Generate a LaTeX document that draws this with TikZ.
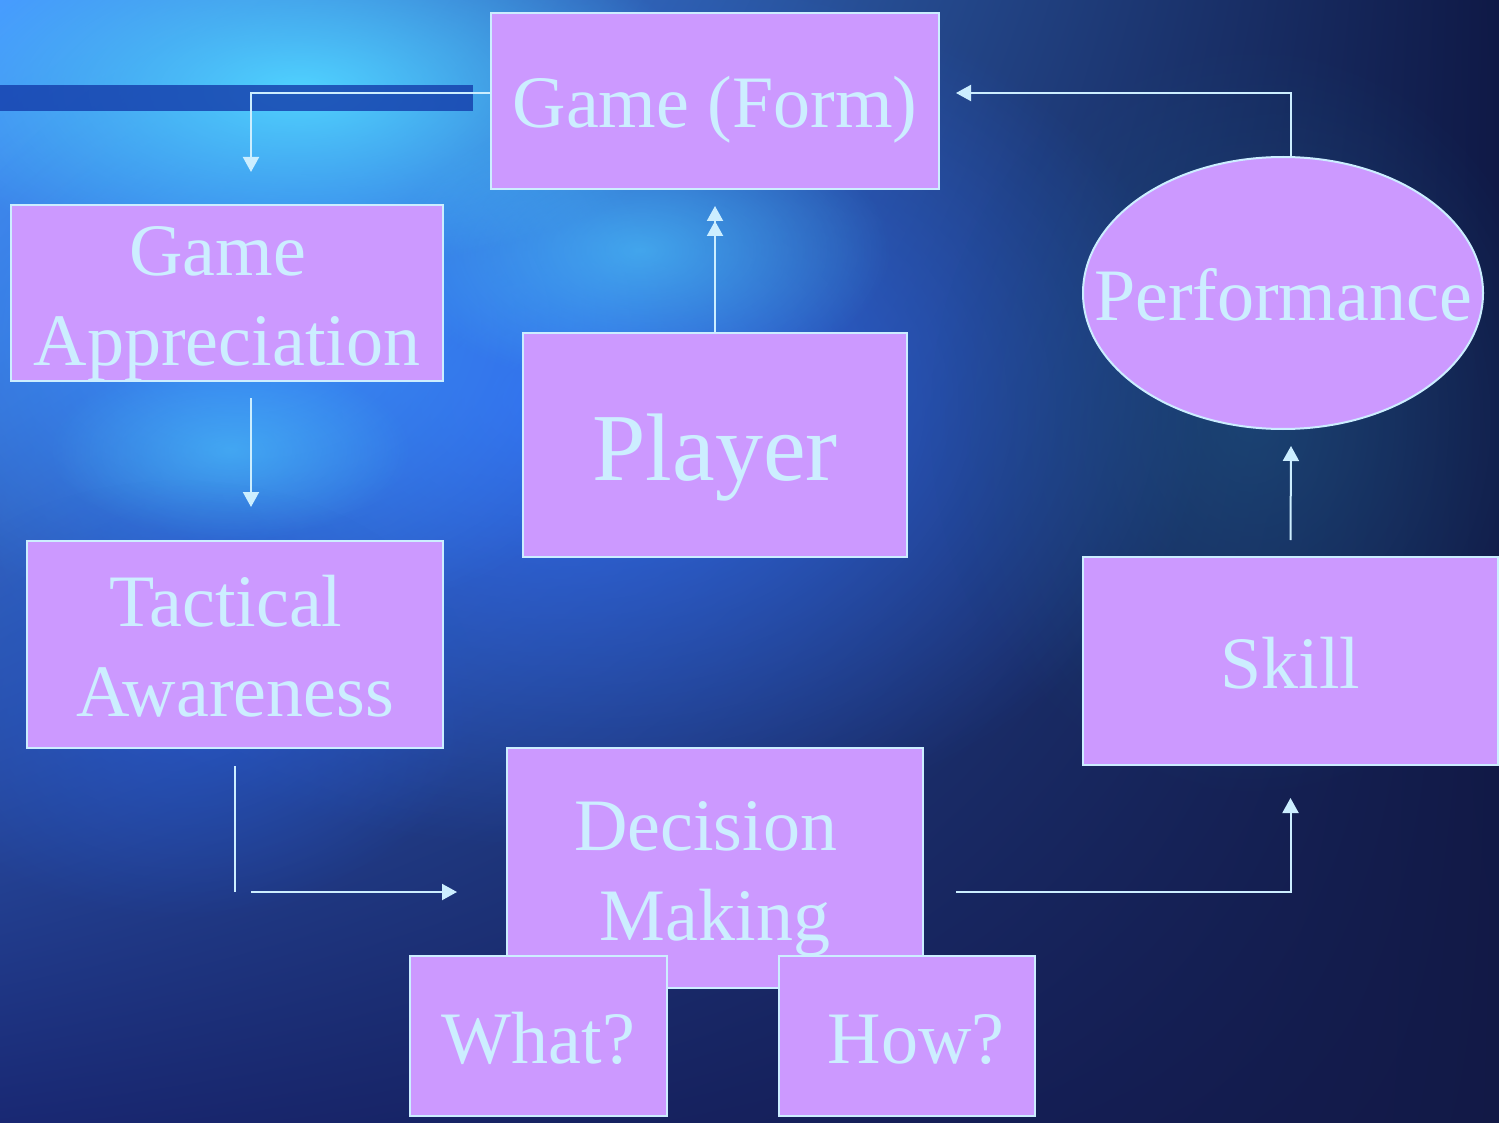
\documentclass[tikz,border=0pt]{standalone}
\usepackage{fontspec}
\setmainfont{Liberation Serif}
\usepackage{tikz}
\usetikzlibrary{positioning, shapes.geometric, arrows.meta, fadings, shadings}
\definecolor{tgBox}{RGB}{204, 153, 255}
\definecolor{tgIce}{RGB}{204, 238, 255}
\definecolor{tgBar}{RGB}{20, 60, 170}
\definecolor{tgSky}{RGB}{80, 210, 255}
\definecolor{tgLight}{RGB}{60, 150, 255}
\definecolor{tgBlue}{RGB}{50, 110, 245}
\definecolor{tgMid}{RGB}{40, 90, 210}
\definecolor{tgTeal}{RGB}{30, 85, 130}
\definecolor{tgUL}{RGB}{70, 150, 255}
\definecolor{tgUR}{RGB}{15, 25, 70}
\definecolor{tgLL}{RGB}{25, 40, 115}
\definecolor{tgLR}{RGB}{18, 25, 70}
\tikzfading[name=glow, inner color=transparent!0, outer color=transparent!100]
\tikzset{
    base/.style={
        font=\fontsize{74}{90}\selectfont,
        text=tgIce,
        align=center
    },
    box/.style={
        base,
        rectangle,
        draw=tgIce,
        line width=2pt,
        fill=tgBox,
        inner sep=0pt,
        text height=54pt,
        text depth=0pt
    },
    twoline/.style={
        text height=144pt
    },
    oval/.style={
        box,
        ellipse
    },
    flow/.style={
        -{Triangle[length=15pt, width=16pt]},
        line width=2pt,
        color=tgIce
    },
    doubleflow/.style={
        -{Triangle[length=15pt, width=16pt, sep=0pt]Triangle[length=15pt, width=16pt, sep=0pt]},
        line width=2pt,
        color=tgIce
    },
    plain/.style={
        line width=2pt,
        color=tgIce
    },
    cloud/.style={
        path fading=glow
    }
}

\begin{document}
\begin{tikzpicture}[x=1pt, y=-1pt]
  \useasboundingbox (0,0) rectangle (1499,1123);

  % Background
  \shade[upper left=tgUL, upper right=tgUR, lower left=tgLL, lower right=tgLR]
    (0,0) rectangle (1499,1123);
  \foreach \bx/\by/\brx/\bry/\bc/\bo in {
      560/400/650/450/tgBlue/0.9,
      250/330/420/300/tgLight/0.8,
      300/90/400/180/tgSky/1,
      640/250/250/140/tgSky/0.6,
      230/450/180/90/tgSky/0.5,
      1250/420/320/380/tgTeal/0.6,
      180/700/300/220/tgMid/0.7}
    \fill[\bc, cloud, fill opacity=\bo] (\bx,\by) ellipse [x radius=\brx, y radius=\bry];
  \fill[tgBar, opacity=0.8] (0,85) rectangle (473,111);

  % Boxes
  \node[box, minimum width=448pt, minimum height=176pt] (form) at (715,101) {Game (Form)};
  \node[box, twoline, minimum width=432pt, minimum height=176pt] (appr) at (227,293) {Game\kern.25em\\Appreciation};
  \node[box, text height=70pt, minimum width=384pt, minimum height=224pt] (player) at (715,445) {\fontsize{96}{110}\selectfont Player};
  \node[oval, minimum width=400pt, minimum height=272pt] (perf) at (1283,293) {\makebox[0pt]{Performance}};
  \node[box, twoline, minimum width=416pt, minimum height=207pt] (tact) at (235,644.5) {Tactical\kern.25em\\Awareness};
  \node[box, minimum width=415pt, minimum height=208pt] (skill) at (1290.5,661) {Skill};
  \node[box, twoline, minimum width=416pt, minimum height=240pt] (dec) at (715,868) {Decision\kern.25em\\Making};
  \node[box, minimum width=257pt, minimum height=160pt] (what) at (538.5,1036) {What?};
  \node[box, minimum width=256pt, minimum height=160pt] (how) at (907,1036) {\kern.25em How?};

  % Connectors
  \coordinate (apprIn) at (251,172);
  \draw[flow] ([yshift=8pt]form.west) -| (apprIn);
  \draw[doubleflow] (player.north) -- ([yshift=-16pt]form.south);
  \draw[flow] ([xshift=8pt]perf.north) |- ([shift={(16pt,8pt)}]form.east);
  \draw[flow] ([shift={(24pt,-16pt)}]appr.south) -- ([shift={(16pt,33pt)}]tact.north);
  \coordinate (tactDown) at (235,892);
  \coordinate (decFrom) at (251,892);
  \draw[plain] ([yshift=-17pt]tact.south) -- (tactDown);
  \draw[flow] (decFrom) -- ([shift={(-49pt,-24pt)}]dec.west);
  \draw[flow] ([shift={(32pt,-24pt)}]dec.east) -| ([yshift=-32pt]skill.south);
  \draw[flow] ([yshift=16pt]skill.north) -- ([shift={(8pt,-16pt)}]perf.south);
\end{tikzpicture}
\end{document}
